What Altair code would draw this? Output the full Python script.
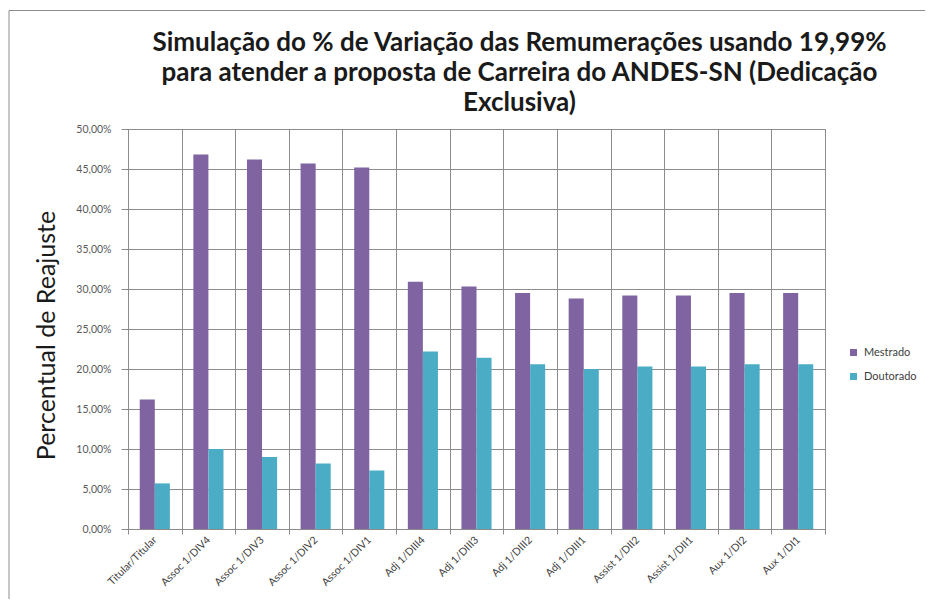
import altair as alt
import pandas as pd

categories = ["Titular/Titular", "Assoc 1/DIV4", "Assoc 1/DIV3", "Assoc 1/DIV2",
              "Assoc 1/DIV1", "Adj 1/DIII4", "Adj 1/DIII3", "Adj 1/DIII2",
              "Adj 1/DIII1", "Assist 1/DII2", "Assist 1/DII1", "Aux 1/DI2", "Aux 1/DI1"]
mestrado = [16.2, 46.8, 46.2, 45.7, 45.2, 30.9, 30.3, 29.5, 28.8, 29.2, 29.2, 29.5, 29.5]
doutorado = [5.7, 10.0, 9.0, 8.2, 7.3, 22.2, 21.4, 20.6, 20.0, 20.3, 20.3, 20.6, 20.6]
series = ["Mestrado", "Doutorado"]
colors = ["#8064A2", "#4BACC6"]
y_ticks = [0, 5, 10, 15, 20, 25, 30, 35, 40, 45, 50]
title_lines = ["Simulação do % de Variação das Remumerações usando  19,99%",
               "para atender a proposta de Carreira do ANDES-SN (Dedicação",
               "Exclusiva)"]

rows = []
for c, m, d in zip(categories, mestrado, doutorado):
    rows.append({"cat": c, "serie": "Mestrado", "valor": m})
    rows.append({"cat": c, "serie": "Doutorado", "valor": d})
df = pd.DataFrame(rows)

FONT = "Lato"
GRID = "#8c8c8c"

bars = alt.Chart(df).mark_bar().encode(
    x=alt.X("cat:N", sort=categories,
            scale=alt.Scale(paddingInner=0, paddingOuter=0),
            axis=alt.Axis(title=None, labelAngle=-45, labelAlign="right",
                          labelBaseline="middle", grid=True, tickBand="extent",
                          ticks=True, tickSize=5, labelPadding=4,
                          labelFontSize=10.5, labelFont=FONT, labelColor="#404040")),
    xOffset=alt.XOffset("serie:N", sort=series,
                        scale=alt.Scale(paddingInner=0, paddingOuter=0.78)),
    y=alt.Y("valor:Q", scale=alt.Scale(domain=[0, 50], nice=False),
            axis=alt.Axis(values=y_ticks,
                          labelExpr="replace(format(datum.value, '.2f'), '.', ',') + '%'",
                          title="Percentual de Reajuste", titleFont=FONT,
                          titleFontSize=25, titleFontWeight="normal",
                          titleColor="#1a1a1a", titlePadding=16, titleY=206,
                          tickSize=7, labelPadding=10, labelFontSize=10.5,
                          labelFont=FONT, labelColor="#595959")),
    color=alt.Color("serie:N", sort=series,
                    scale=alt.Scale(domain=series, range=colors),
                    legend=alt.Legend(title=None, orient="none", legendX=720,
                                      legendY=218, symbolType="square",
                                      symbolSize=49, symbolStrokeWidth=0,
                                      labelFontSize=11, labelFont=FONT,
                                      labelColor="#404040", rowPadding=12,
                                      padding=0, labelOffset=5)),
)

frame_df = pd.DataFrame({"a": [0]})
top_rule = alt.Chart(frame_df).mark_rule(color=GRID, strokeWidth=1).encode(
    x=alt.value(-119), x2=alt.value(797), y=alt.value(-118.5))
left_rule = alt.Chart(frame_df).mark_rule(color=GRID, strokeWidth=1).encode(
    x=alt.value(-119), y=alt.value(-118.5), y2=alt.value(470))

chart = alt.layer(top_rule, left_rule, bars).properties(
    width=697, height=400,
    padding={"left": 0, "top": 2, "right": 0, "bottom": 0},
    title=alt.TitleParams(text=title_lines, font=FONT, fontSize=26,
                          fontWeight="bold", color="#1a1a1a", anchor="middle",
                          dx=43, offset=-106, lineHeight=30),
    background="white",
).configure_view(stroke=GRID).configure_axis(
    gridColor=GRID, gridOpacity=1, domainColor=GRID, tickColor=GRID
)

chart.save("out.html", embed_options={"renderer": "svg", "actions": False})
